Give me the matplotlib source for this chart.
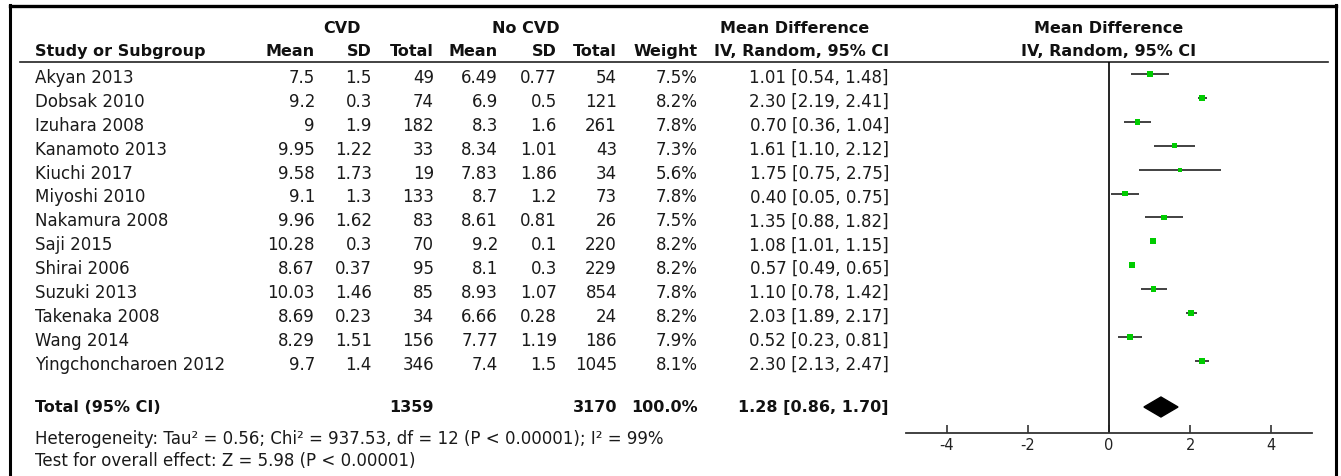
import numpy as np
import matplotlib
matplotlib.use('Agg')
import matplotlib.pyplot as plt
from matplotlib.patches import Polygon
from matplotlib.transforms import blended_transform_factory

# study-level data
studies = ['Akyan 2013', 'Dobsak 2010', 'Izuhara 2008', 'Kanamoto 2013', 'Kiuchi 2017',
           'Miyoshi 2010', 'Nakamura 2008', 'Saji 2015', 'Shirai 2006', 'Suzuki 2013',
           'Takenaka 2008', 'Wang 2014', 'Yingchoncharoen 2012']
cvd_mean = [7.5, 9.2, 9, 9.95, 9.58, 9.1, 9.96, 10.28, 8.67, 10.03, 8.69, 8.29, 9.7]
cvd_sd = [1.5, 0.3, 1.9, 1.22, 1.73, 1.3, 1.62, 0.3, 0.37, 1.46, 0.23, 1.51, 1.4]
cvd_n = [49, 74, 182, 33, 19, 133, 83, 70, 95, 85, 34, 156, 346]
ctl_mean = [6.49, 6.9, 8.3, 8.34, 7.83, 8.7, 8.61, 9.2, 8.1, 8.93, 6.66, 7.77, 7.4]
ctl_sd = [0.77, 0.5, 1.6, 1.01, 1.86, 1.2, 0.81, 0.1, 0.3, 1.07, 0.28, 1.19, 1.5]
ctl_n = [54, 121, 261, 43, 34, 73, 26, 220, 229, 854, 24, 186, 1045]
weight = [7.5, 8.2, 7.8, 7.3, 5.6, 7.8, 7.5, 8.2, 8.2, 7.8, 8.2, 7.9, 8.1]
md = [1.01, 2.30, 0.70, 1.61, 1.75, 0.40, 1.35, 1.08, 0.57, 1.10, 2.03, 0.52, 2.30]
ci_lo = [0.54, 2.19, 0.36, 1.10, 0.75, 0.05, 0.88, 1.01, 0.49, 0.78, 1.89, 0.23, 2.13]
ci_hi = [1.48, 2.41, 1.04, 2.12, 2.75, 0.75, 1.82, 1.15, 0.65, 1.42, 2.17, 0.81, 2.47]

# pooled result
total_cvd = 1359
total_ctl = 3170
total_weight = 100.0
pooled_md = 1.28
pooled_lo = 0.86
pooled_hi = 1.70
het_text = ('Heterogeneity: Tau\u00b2 = 0.56; Chi\u00b2 = 937.53, df = 12 (P < 0.00001); '
            'I\u00b2 = 99%')
effect_text = 'Test for overall effect: Z = 5.98 (P < 0.00001)'
ticks = [-4, -2, 0, 2, 4]

W, H = 1341, 476
fig = plt.figure(figsize=(W / 100, H / 100), dpi=100)

# background axes in pixel units for the table part
bg = fig.add_axes([0, 0, 1, 1])
bg.set_xlim(0, W)
bg.set_ylim(H, 0)
bg.axis('off')

txt = dict(fontsize=12, family='DejaVu Sans', color='#1a1a1a')
bold = dict(fontsize=11.5, family='DejaVu Sans', color='#111111', fontweight='bold')

# frame
bg.plot([10, 10], [5, H], color='black', lw=2.2)
bg.plot([10, 1336], [5.5, 5.5], color='black', lw=2.4)
bg.plot([1336, 1336], [5, H], color='black', lw=2.2)
bg.plot([20, 1328], [62, 62], color='#222222', lw=1.2)

# column right edges
x_study = 35
cols = [315, 372, 434, 498, 557, 617, 698, 889]

# headers
bg.text(342, 33, 'CVD', ha='center', va='baseline', **bold)
bg.text(526, 33, 'No CVD', ha='center', va='baseline', **bold)
bg.text(795, 33, 'Mean Difference', ha='center', va='baseline', **bold)
bg.text(x_study, 56, 'Study or Subgroup', ha='left', va='baseline', **bold)
for x, lab in zip(cols, ['Mean', 'SD', 'Total', 'Mean', 'SD', 'Total', 'Weight',
                         'IV, Random, 95% CI']):
    bg.text(x, 56, lab, ha='right', va='baseline', **bold)

rows_y = 74 + 23.9 * np.arange(len(studies))
for i, y in enumerate(rows_y):
    base = y + 9
    bg.text(x_study, base, studies[i], ha='left', va='baseline', **txt)
    vals = [f'{cvd_mean[i]:g}', f'{cvd_sd[i]:g}', f'{cvd_n[i]}',
            f'{ctl_mean[i]:g}', f'{ctl_sd[i]:g}', f'{ctl_n[i]}',
            f'{weight[i]:.1f}%',
            f'{md[i]:.2f} [{ci_lo[i]:.2f}, {ci_hi[i]:.2f}]']
    for x, v in zip(cols, vals):
        bg.text(x, base, v, ha='right', va='baseline', **txt)

total_y = 407
bg.text(x_study, total_y + 5, 'Total (95% CI)', ha='left', va='baseline', **bold)
bg.text(cols[2], total_y + 5, f'{total_cvd}', ha='right', va='baseline', **bold)
bg.text(cols[5], total_y + 5, f'{total_ctl}', ha='right', va='baseline', **bold)
bg.text(cols[6], total_y + 5, f'{total_weight:.1f}%', ha='right', va='baseline', **bold)
bg.text(cols[7], total_y + 5, f'{pooled_md:.2f} [{pooled_lo:.2f}, {pooled_hi:.2f}]',
        ha='right', va='baseline', **bold)
bg.text(x_study, 444, het_text, ha='left', va='baseline', **txt)
bg.text(x_study, 466, effect_text, ha='left', va='baseline', **txt)

# forest plot axes
left, right, top, bottom = 906, 1312, 62, 432.5
fax = fig.add_axes([left / W, 1 - bottom / H, (right - left) / W, (bottom - top) / H])
fax.patch.set_alpha(0)
fax.set_xlim(-5, 5)
fax.set_ylim(bottom, top)
for s in ['top', 'left', 'right']:
    fax.spines[s].set_visible(False)
fax.spines['bottom'].set_color('#333333')
fax.spines['bottom'].set_linewidth(1.3)
fax.set_yticks([])
fax.set_xticks(ticks)
fax.set_xticklabels([str(t) for t in ticks])
fax.tick_params(axis='x', direction='in', length=6, width=1.1, pad=4,
                labelsize=10.5, colors='#222222')

fax.axvline(0, color='black', lw=1.2, zorder=1)
fax.hlines(rows_y, ci_lo, ci_hi, color='#333333', lw=1.3, zorder=2)
sizes = (np.array(weight) * 0.72 * 0.72) ** 2
fax.scatter(md, rows_y, marker='s', s=sizes, color='#00cc00', edgecolors='none', zorder=3)

diamond = Polygon([(pooled_lo, total_y), (pooled_md, total_y - 10),
                   (pooled_hi, total_y), (pooled_md, total_y + 10)],
                  closed=True, facecolor='black', edgecolor='black', zorder=3)
fax.add_patch(diamond)

# header over the plot column, centred on zero
tr = blended_transform_factory(fax.transData, bg.transData)
fax.text(0, 33, 'Mean Difference', ha='center', va='baseline', transform=tr, **bold)
fax.text(0, 56, 'IV, Random, 95% CI', ha='center', va='baseline', transform=tr, **bold)

fig.savefig('out.png', dpi=100)
